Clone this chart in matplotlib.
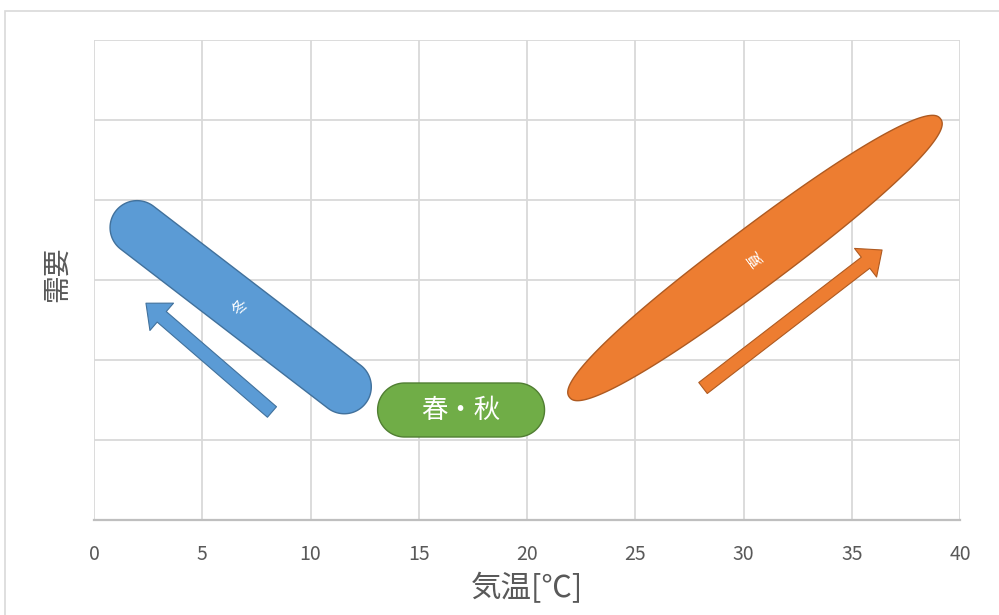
import matplotlib
matplotlib.use("Agg")
import matplotlib.pyplot as plt
from matplotlib.patches import Polygon, Rectangle
import numpy as np

plt.rcParams['font.family'] = ['Noto Sans CJK JP', 'DejaVu Sans']

# Seasonal demand bands: (temperature, demand) at the cool end and warm end
season_names = ['冬', '春・秋', '夏']
season_start_temp = [1.0, 13.1, 21.96]
season_start_demand = [3.86, 1.375, 1.535]
season_end_temp = [12.55, 20.81, 39.1]
season_end_demand = [1.46, 1.375, 5.015]

# Trend arrows: (temperature, demand) at tail and head
arrow_tail_temp = [8.22, 28.13]
arrow_tail_demand = [1.35, 1.65]
arrow_head_temp = [2.40, 36.40]
arrow_head_demand = [2.71, 3.375]

x_ticks = [0, 5, 10, 15, 20, 25, 30, 35, 40]
y_grid = [0, 1, 2, 3, 4, 5, 6]

fills = ['#5B9BD5', '#70AD47', '#ED7D31']
edges = ['#41719C', '#507E32', '#AE5A21']
arrow_fills = ['#5B9BD5', '#ED7D31']
arrow_edges = ['#41719C', '#AE5A21']

fig = plt.figure(figsize=(9.99, 6.15), dpi=100)
ax = fig.add_axes([94 / 999, 1 - 520 / 615, 866 / 999, 480 / 615])

ax.set_xlim(0, 40)
ax.set_ylim(0, 6)
ax.set_xticks(x_ticks)
ax.set_yticks(y_grid)
ax.set_yticklabels([])
ax.grid(True, color='#D9D9D9', linewidth=1.3)
ax.set_axisbelow(True)
for side in ['top', 'right', 'left']:
    ax.spines[side].set_visible(False)
ax.spines['bottom'].set_color('#BFBFBF')
ax.spines['bottom'].set_linewidth(1.6)
ax.tick_params(length=0, labelsize=14, labelcolor='#595959', pad=17)

ax.set_xlabel('気温[℃]', fontsize=22, color='#595959')
ax.xaxis.set_label_coords(0.5, -0.142)
ax.xaxis.label.set_va('center')
ax.set_ylabel('需要', fontsize=20, color='#595959')
ax.yaxis.set_label_coords(-0.043, 0.5125)
ax.yaxis.label.set_va('center')


def blob(p0, p1, half_width, power):
    """Outline of a rounded band between two data points, built in pixel space."""
    a, b = ax.transData.transform([p0, p1])
    c = (a + b) / 2
    d = b - a
    half_len = np.hypot(*d) / 2
    ang = np.arctan2(d[1], d[0])
    if power is None:
        # stadium: straight sides with semicircular caps
        r = half_width
        core = half_len - r
        s1 = np.linspace(-np.pi / 2, np.pi / 2, 100)
        s2 = np.linspace(np.pi / 2, 3 * np.pi / 2, 100)
        u = np.concatenate([core + r * np.cos(s1), -core + r * np.cos(s2)])
        v = np.concatenate([r * np.sin(s1), r * np.sin(s2)])
    else:
        t = np.linspace(0, 2 * np.pi, 400)
        ct, st = np.cos(t), np.sin(t)
        u = half_len * np.sign(ct) * np.abs(ct) ** (2 / power)
        v = half_width * np.sign(st) * np.abs(st) ** (2 / power)
    x = c[0] + u * np.cos(ang) - v * np.sin(ang)
    y = c[1] + u * np.sin(ang) + v * np.cos(ang)
    return ax.transData.inverted().transform(np.column_stack([x, y])), np.degrees(ang)


shape_width = [27, 27, 30]
shape_power = [None, None, 2.3]
for i, name in enumerate(season_names):
    p0 = (season_start_temp[i], season_start_demand[i])
    p1 = (season_end_temp[i], season_end_demand[i])
    outline, ang = blob(p0, p1, shape_width[i], shape_power[i])
    ax.add_patch(Polygon(outline, closed=True, facecolor=fills[i],
                         edgecolor=edges[i], linewidth=1.0, zorder=3))
    cx = (p0[0] + p1[0]) / 2
    cy = (p0[1] + p1[1]) / 2
    if name == '春・秋':
        ax.text(cx, cy, name, color='white', fontsize=19,
                ha='center', va='center', zorder=4)
    else:
        ax.text(cx, cy, name, color='white', fontsize=11, rotation=ang + 90,
                ha='center', va='center', zorder=4)

for i in range(len(arrow_tail_temp)):
    ax.annotate('', xy=(arrow_head_temp[i], arrow_head_demand[i]),
                xytext=(arrow_tail_temp[i], arrow_tail_demand[i]),
                arrowprops=dict(arrowstyle='simple,head_length=0.75,head_width=1.3,tail_width=0.5',
                                mutation_scale=20, facecolor=arrow_fills[i],
                                edgecolor=arrow_edges[i], linewidth=0.8,
                                shrinkA=0, shrinkB=0),
                zorder=3)

# light chart-area frame
fig.add_artist(Rectangle((5 / 999, -0.1), 1.2, 1.1 - 11 / 615,
                         transform=fig.transFigure, fill=False,
                         edgecolor='#D9D9D9', linewidth=1.2))

fig.savefig('out.png', dpi=100)
